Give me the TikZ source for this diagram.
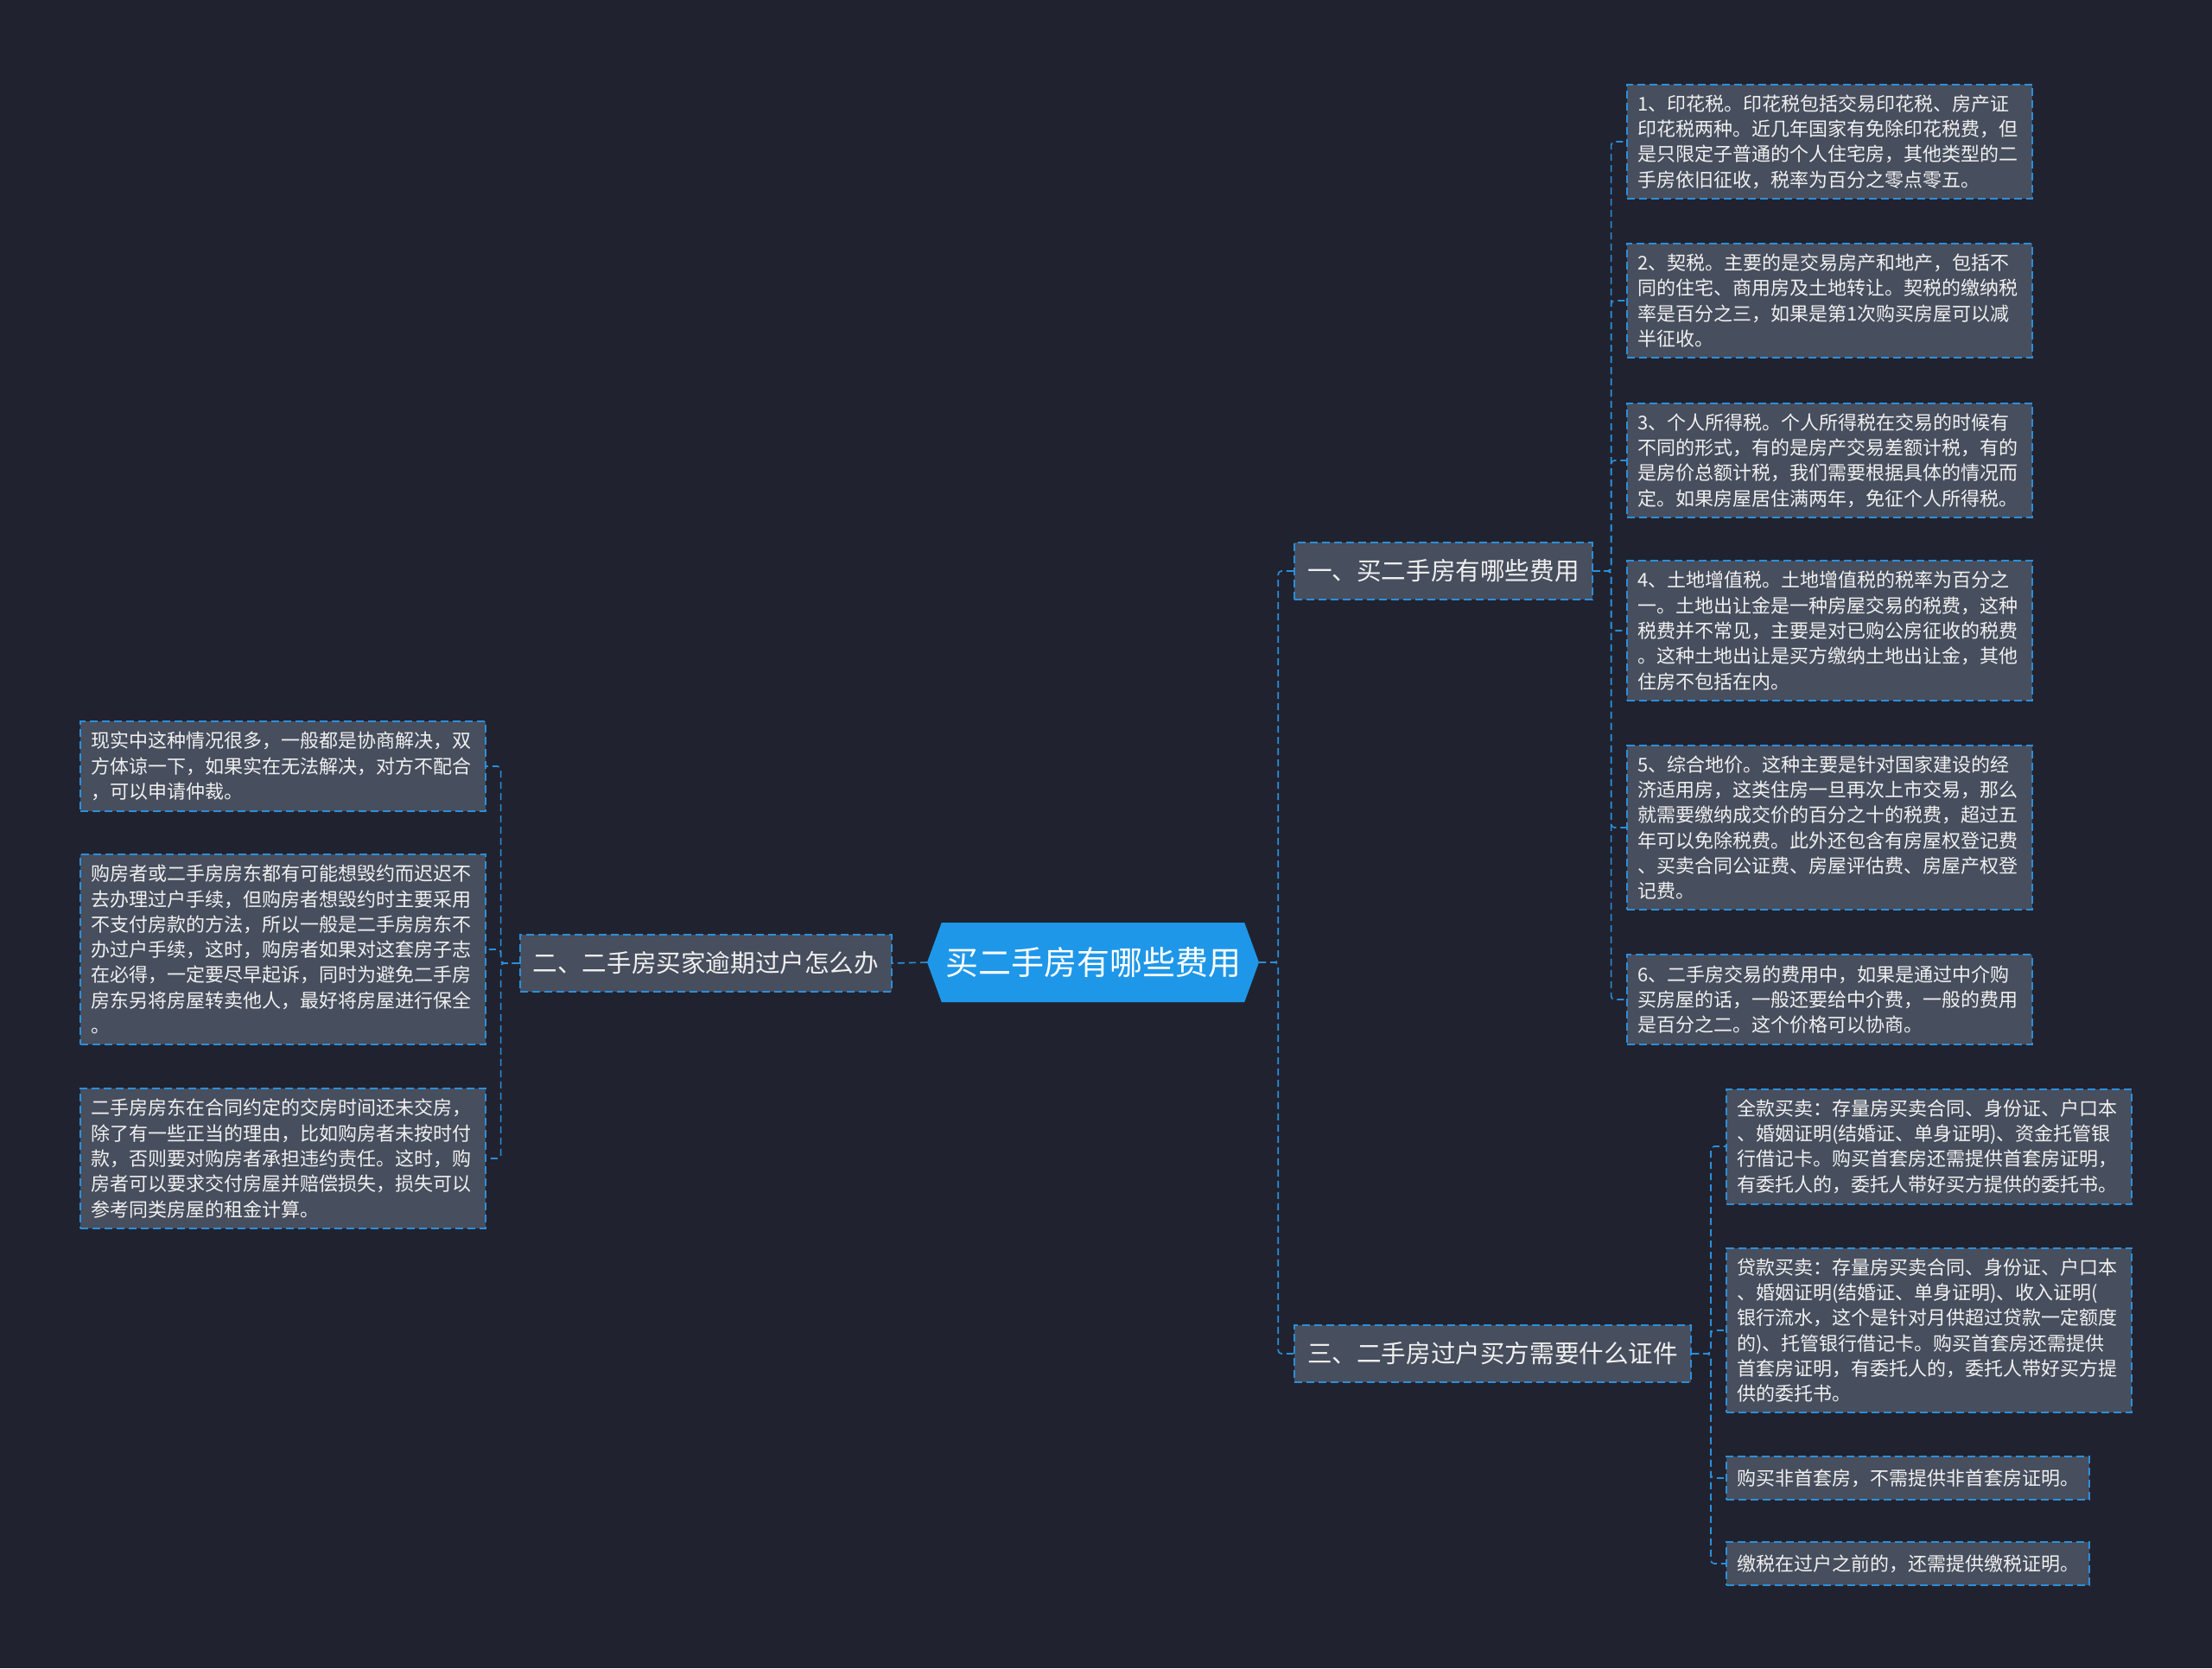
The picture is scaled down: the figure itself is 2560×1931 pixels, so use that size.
\documentclass[tikz,border=0pt]{standalone}
\usepackage{fontspec}
\setmainfont{Noto Sans CJK SC}
\usetikzlibrary{shapes.symbols}

\definecolor{bgcol}{HTML}{20232F}
\definecolor{boxcol}{HTML}{474E5D}
\definecolor{edgecol}{HTML}{2B8FDC}
\definecolor{rootcol}{HTML}{1E97E9}
\definecolor{txtcol}{HTML}{F0F0F0}

\begin{document}
\begin{tikzpicture}[
    x=1pt, y=-1pt, % one unit = one pixel of the reference, y downwards
    root/.style={signal, signal to=east and west, signal pointer angle=140,
        fill=rootcol, text=white, minimum width=384pt, minimum height=92pt,
        inner xsep=2pt, font=\fontsize{38pt}{42pt}\selectfont},
    branch/.style={rectangle, fill=boxcol, draw=edgecol, line width=2pt,
        dash pattern=on 9pt off 5pt, text=txtcol, minimum height=66pt,
        inner xsep=15pt, font=\fontsize{28.6pt}{32pt}\selectfont},
    leaf/.style={rectangle, fill=boxcol, draw=edgecol, line width=2pt,
        dash pattern=on 9pt off 5pt, text=txtcol, text width=445pt, align=left,
        inner xsep=12pt, inner ysep=12pt, font=\fontsize{22pt}{29.3pt}\selectfont},
    shortleaf/.style={leaf, text width=, minimum height=50pt},
    link/.style={draw=edgecol, line width=1.6pt, dash pattern=on 8pt off 5pt,
        rounded corners=4pt}
]

    % Background and page size
    \fill[bgcol] (0,0) rectangle (2560,1931);
    \useasboundingbox (0,0) rectangle (2560,1931);

    % Centre and the three branches
    \node[root] (root) at (1265,1114) {买二手房有哪些费用};
    \node[branch, anchor=west] (b1) at (1497,661) {一、买二手房有哪些费用};
    \node[branch, anchor=west] (b3) at (1497,1567) {三、二手房过户买方需要什么证件};
    \node[branch, anchor=east] (b2) at (1033,1115) {二、二手房买家逾期过户怎么办};

    % Branch 1: the fees
    \node[leaf, anchor=west] (f1) at (1882,164) {1、印花税。印花税包括交易印花税、房产证\\印花税两种。近几年国家有免除印花税费，但\\是只限定子普通的个人住宅房，其他类型的二\\手房依旧征收，税率为百分之零点零五。};
    \node[leaf, anchor=west] (f2) at (1882,348) {2、契税。主要的是交易房产和地产，包括不\\同的住宅、商用房及土地转让。契税的缴纳税\\率是百分之三，如果是第1次购买房屋可以减\\半征收。};
    \node[leaf, anchor=west] (f3) at (1882,533) {3、个人所得税。个人所得税在交易的时候有\\不同的形式，有的是房产交易差额计税，有的\\是房价总额计税，我们需要根据具体的情况而\\定。如果房屋居住满两年，免征个人所得税。};
    \node[leaf, anchor=west] (f4) at (1882,730) {4、土地增值税。土地增值税的税率为百分之\\一。土地出让金是一种房屋交易的税费，这种\\税费并不常见，主要是对已购公房征收的税费\\。这种土地出让是买方缴纳土地出让金，其他\\住房不包括在内。};
    \node[leaf, anchor=west] (f5) at (1882,958) {5、综合地价。这种主要是针对国家建设的经\\济适用房，这类住房一旦再次上市交易，那么\\就需要缴纳成交价的百分之十的税费，超过五\\年可以免除税费。此外还包含有房屋权登记费\\、买卖合同公证费、房屋评估费、房屋产权登\\记费。};
    \node[leaf, anchor=west] (f6) at (1882,1157) {6、二手房交易的费用中，如果是通过中介购\\买房屋的话，一般还要给中介费，一般的费用\\是百分之二。这个价格可以协商。};

    % Branch 3: the documents
    \node[leaf, anchor=west] (d1) at (1997,1327) {全款买卖：存量房买卖合同、身份证、户口本\\、婚姻证明(结婚证、单身证明)、资金托管银\\行借记卡。购买首套房还需提供首套房证明，\\有委托人的，委托人带好买方提供的委托书。};
    \node[leaf, anchor=west] (d2) at (1997,1540) {贷款买卖：存量房买卖合同、身份证、户口本\\、婚姻证明(结婚证、单身证明)、收入证明(\\银行流水，这个是针对月供超过贷款一定额度\\的)、托管银行借记卡。购买首套房还需提供\\首套房证明，有委托人的，委托人带好买方提\\供的委托书。};
    \node[shortleaf, anchor=west] (d3) at (1997,1711) {购买非首套房，不需提供非首套房证明。};
    \node[shortleaf, anchor=west] (d4) at (1997,1810) {缴税在过户之前的，还需提供缴税证明。};

    % Branch 2: overdue transfer
    \node[leaf, anchor=east] (o1) at (563,887) {现实中这种情况很多，一般都是协商解决，双\\方体谅一下，如果实在无法解决，对方不配合\\，可以申请仲裁。};
    \node[leaf, anchor=east] (o2) at (563,1099) {购房者或二手房房东都有可能想毁约而迟迟不\\去办理过户手续，但购房者想毁约时主要采用\\不支付房款的方法，所以一般是二手房房东不\\办过户手续，这时，购房者如果对这套房子志\\在必得，一定要尽早起诉，同时为避免二手房\\房东另将房屋转卖他人，最好将房屋进行保全\\。};
    \node[leaf, anchor=east] (o3) at (563,1341) {二手房房东在合同约定的交房时间还未交房，\\除了有一些正当的理由，比如购房者未按时付\\款，否则要对购房者承担违约责任。这时，购\\房者可以要求交付房屋并赔偿损失，损失可以\\参考同类房屋的租金计算。};

    % Connectors
    \draw[link] (root.east) -- ++(22,0) |- (b1.west);
    \draw[link] (root.east) -- ++(22,0) |- (b3.west);
    \draw[link] (root.west) -- (b2.east);
    \foreach \n in {f1,f2,f3,f4,f5,f6}
        \draw[link] (b1.east) -- ++(21,0) |- (\n.west);
    \foreach \n in {d1,d2,d3,d4}
        \draw[link] (b3.east) -- ++(22,0) |- (\n.west);
    \foreach \n in {o1,o2,o3}
        \draw[link] (b2.west) -- ++(-21,0) |- (\n.east);

\end{tikzpicture}
\end{document}
